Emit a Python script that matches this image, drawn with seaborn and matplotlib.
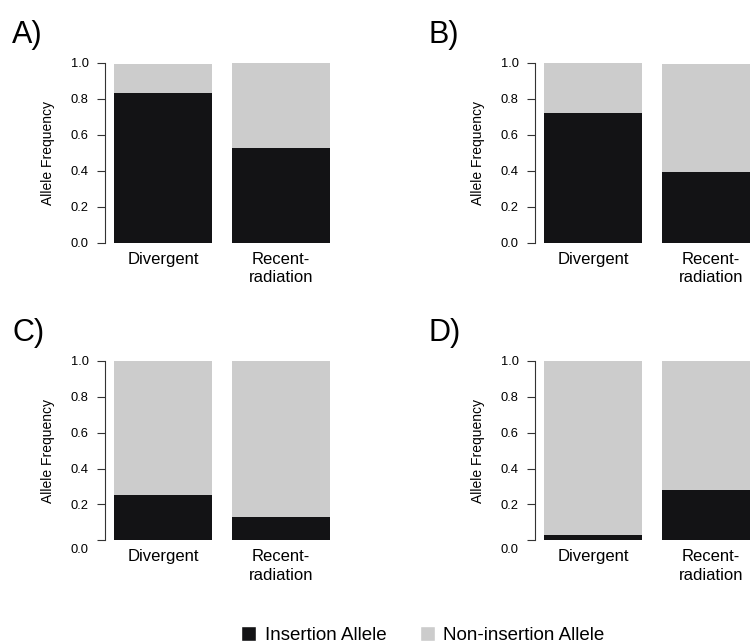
import matplotlib
matplotlib.use("Agg")
import pandas as pd
import matplotlib.pyplot as plt
import matplotlib.transforms as mtransforms
from matplotlib.patches import Patch
import seaborn as sns

# Data
groups = ["Divergent", "Recent-\nradiation"]
panel_labels = ["A)", "B)", "C)", "D)"]

insertion_a = [0.835, 0.53]
non_insertion_a = [0.16, 0.47]
insertion_b = [0.72, 0.395]
non_insertion_b = [0.28, 0.60]
insertion_c = [0.25, 0.13]
non_insertion_c = [0.75, 0.87]
insertion_d = [0.03, 0.28]
non_insertion_d = [0.97, 0.72]

y_ticks = [0.0, 0.2, 0.4, 0.6, 0.8, 1.0]
legend_labels = ["Insertion Allele", "Non-insertion Allele"]

INSERTION_COLOR = "#131315"
NON_INSERTION_COLOR = "#cccccc"
AXIS_COLOR = "#333333"


def draw_panel(ax, insertion, non_insertion, shift_zero=False):
    df = pd.DataFrame({
        "group": groups,
        "insertion": insertion,
        "total": [i + n for i, n in zip(insertion, non_insertion)],
    })
    # stacked bars: full height in grey, insertion share in black on top
    sns.barplot(data=df, x="group", y="total", color=NON_INSERTION_COLOR,
                saturation=1, width=0.833, linewidth=0, ax=ax)
    sns.barplot(data=df, x="group", y="insertion", color=INSERTION_COLOR,
                saturation=1, width=0.833, linewidth=0, ax=ax)

    ax.set_xlim(-0.49, 1.49)
    ax.set_ylim(-0.04, 1.04)
    ax.set_yticks(y_ticks)
    ax.set_yticklabels([f"{t:.1f}" for t in y_ticks])

    for side in ["top", "right", "bottom"]:
        ax.spines[side].set_visible(False)
    ax.spines["left"].set_bounds(0, 1)
    ax.spines["left"].set_color(AXIS_COLOR)
    ax.spines["left"].set_linewidth(0.8)

    ax.tick_params(axis="y", left=True, length=6, width=0.8, pad=6,
                   labelsize=9.3, color=AXIS_COLOR, labelcolor="black")
    ax.tick_params(axis="x", bottom=False, length=0, pad=1,
                   labelsize=12, labelcolor="black")
    for lab in ax.get_xticklabels():
        lab.set_linespacing(1.3)

    ax.set_xlabel("")
    ax.set_ylabel("Allele Frequency", fontsize=10, color="black")
    ax.yaxis.set_label_coords(-0.215, 0.5)

    if shift_zero:
        # the lower panels have the 0.0 label pushed a bit down
        lab = ax.get_yticklabels()[0]
        lab.set_transform(lab.get_transform() +
                          mtransforms.ScaledTranslation(0, -0.08, ax.figure.dpi_scale_trans))


def main():
    sns.set_theme(style="white")
    plt.rcParams["font.family"] = ["Liberation Sans", "DejaVu Sans"]
    plt.rcParams["text.color"] = "black"

    fig = plt.figure(figsize=(7.5, 6.44), dpi=100)

    boxes = [(0.1405, 0.6115, 0.311, 0.302),
             (0.7139, 0.6115, 0.311, 0.302),
             (0.1405, 0.1498, 0.311, 0.301),
             (0.7139, 0.1498, 0.311, 0.301)]
    data = [(insertion_a, non_insertion_a),
            (insertion_b, non_insertion_b),
            (insertion_c, non_insertion_c),
            (insertion_d, non_insertion_d)]
    label_pos = [(0.016, 0.934), (0.572, 0.934), (0.016, 0.47), (0.572, 0.47)]

    for i, (box, (ins, non)) in enumerate(zip(boxes, data)):
        ax = fig.add_axes(box)
        draw_panel(ax, ins, non, shift_zero=(i >= 2))
        fig.text(label_pos[i][0], label_pos[i][1], panel_labels[i],
                 fontsize=22, va="baseline", ha="left")

    handles = [Patch(facecolor=INSERTION_COLOR, label=legend_labels[0]),
               Patch(facecolor=NON_INSERTION_COLOR, label=legend_labels[1])]
    fig.legend(handles=handles, loc="center", bbox_to_anchor=(0.564, 0.0135),
               ncol=2, frameon=False, fontsize=13.5, handlelength=0.8,
               handleheight=0.8, handletextpad=0.45, columnspacing=1.8)

    fig.savefig("out.png", dpi=100)


if __name__ == "__main__":
    main()
